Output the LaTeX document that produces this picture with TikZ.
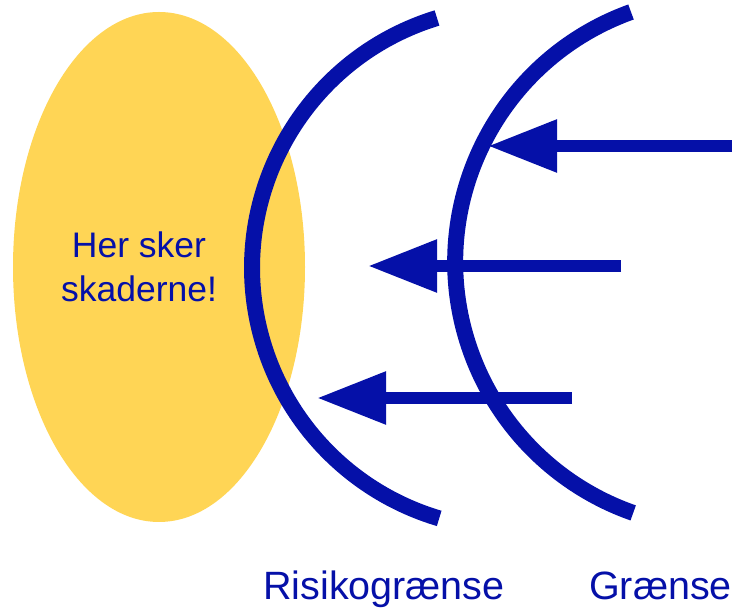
\documentclass[tikz,border=0pt]{standalone}
\usepackage{fontspec}
\setmainfont{Liberation Sans}
\usetikzlibrary{shapes.geometric,arrows.meta}
\definecolor{zoneyellow}{RGB}{255,213,85}
\definecolor{limitblue}{RGB}{5,16,168}
\begin{document}
\begin{tikzpicture}[x=1pt,y=1pt,
  limitarc/.style={draw=limitblue,line width=16pt},
  push/.style={draw=limitblue,line width=12pt,-{Triangle[length=69pt,width=50pt]}},
  limitlabel/.style={text=limitblue,font=\fontsize{39.5}{47}\selectfont,inner sep=0pt,anchor=base west}
]
\useasboundingbox (0,0) rectangle (732,610);
\node[ellipse,fill=zoneyellow,minimum width=292pt,minimum height=510pt,inner sep=0pt] (zone) at (159,343) {};
\node[text=limitblue,align=center,font=\fontsize{35.5}{44}\selectfont,inner sep=0pt] (zonetext) at (139,343) {Her sker\\skaderne!};
\coordinate (r1top) at (437,592);
\coordinate (r2top) at (631,598);
\draw[limitarc] (r1top) arc[start angle=107,end angle=253.5,radius=261.3];
\draw[limitarc] (r2top) arc[start angle=109.8,end angle=250.7,radius=265.8];
\coordinate (p1s) at (732,464); \coordinate (p1t) at (488,464);
\coordinate (p2s) at (621,344); \coordinate (p2t) at (368,344);
\coordinate (p3s) at (572,212); \coordinate (p3t) at (317,212);
\draw[push] (p1s) -- (p1t);
\draw[push] (p2s) -- (p2t);
\draw[push] (p3s) -- (p3t);
\node[limitlabel] (risk) at (263,10) {Risikogrænse};
\node[limitlabel] (limit) at (589,10) {Grænse};
\end{tikzpicture}
\end{document}
